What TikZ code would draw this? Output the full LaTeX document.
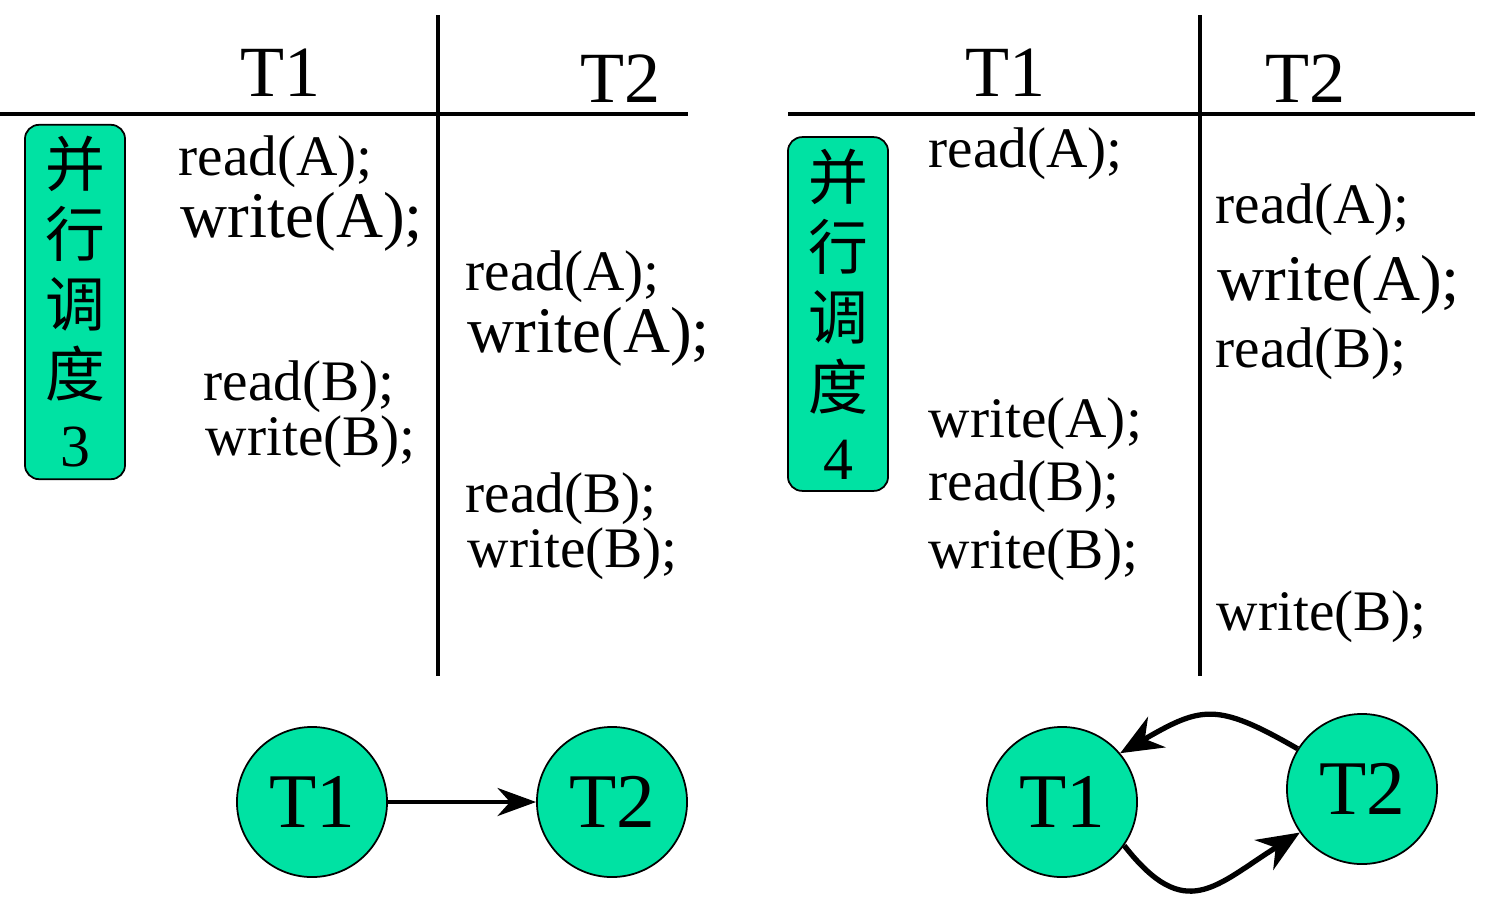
\documentclass[tikz,border=0pt]{standalone}
\usepackage{fontspec}
\setmainfont{Liberation Serif}
\newfontfamily\cjk{Noto Sans CJK SC}
\usetikzlibrary{arrows.meta}

\definecolor{sched}{RGB}{0,226,163}
\newcommand{\opfont}{\fontsize{16.3}{19}\selectfont}
\newcommand{\wrfont}{\fontsize{18.5}{22}\selectfont}
\newcommand{\hdfont}{\fontsize{20.5}{24}\selectfont}

\tikzstyle{op} = [anchor=base west, inner sep=0pt, font=\opfont]
\tikzstyle{opbig} = [anchor=base west, inner sep=0pt, font=\wrfont]
\tikzstyle{head} = [anchor=base west, inner sep=0pt, font=\hdfont]
\tikzstyle{tag} = [draw, fill=sched, rectangle, rounded corners=4pt,
    minimum width=1cm, minimum height=3.48cm, align=center, line width=0.5pt,
    font=\cjk\fontsize{17}{19.9}\selectfont]
\tikzstyle{txn} = [draw, fill=sched, circle, minimum size=1.5cm,
    inner sep=0pt, line width=0.5pt, font=\fontsize{22}{26}\selectfont]
\tikzstyle{rule} = [line width=1.4pt]

\begin{document}
\begin{tikzpicture}[x=0.01cm, y=-0.01cm]
      \useasboundingbox (0,0) rectangle (1503,903);

      % schedule 3
      \draw [rule] (0,114) -- (688,114);
      \draw [rule] (438,15) -- (438,676);
      \node [head] at (240,96) (h3a) {T1};
      \node [head] at (580,102) (h3b) {T2};
      \node [tag] at (75,302) (tag3) {并\\行\\调\\度\\{\rmfamily 3}};

      \node [op] at (178,175) (s3r1) {read(A);};
      \node [opbig] at (180,237) (s3w1) {write(A);};
      \node [op] at (203,400) (s3r2) {read(B);};
      \node [op] at (205,455) (s3w2) {write(B);};
      \node [op] at (465,290) (s3r3) {read(A);};
      \node [opbig] at (467,352) (s3w3) {write(A);};
      \node [op] at (465,512) (s3r4) {read(B);};
      \node [op] at (467,567) (s3w4) {write(B);};

      % schedule 4
      \draw [rule] (788,114) -- (1475,114);
      \draw [rule] (1200,15) -- (1200,676);
      \node [head] at (965,96) (h4a) {T1};
      \node [head] at (1265,102) (h4b) {T2};
      \node [tag] at (838,314) (tag4) {并\\行\\调\\度\\{\rmfamily 4}};

      \node [op] at (928,167) (s4r1) {read(A);};
      \node [op] at (928,437) (s4w1) {write(A);};
      \node [op] at (928,500) (s4r2) {read(B);};
      \node [op] at (928,568) (s4w2) {write(B);};
      \node [op] at (1215,223) (s4r3) {read(A);};
      \node [opbig] at (1217,300) (s4w3) {write(A);};
      \node [op] at (1215,367) (s4r4) {read(B);};
      \node [op] at (1216,630) (s4w4) {write(B);};

      % precedence graphs
      \node [txn] at (312,802) (g3a) {T1};
      \node [txn] at (612,802) (g3b) {T2};
      \draw [-{Stealth[length=11pt,width=8pt]}, line width=0.9pt] (g3a) -- (g3b);

      \node [txn] at (1062,802) (g4a) {T1};
      \node [txn] at (1362,789) (g4b) {T2};
      \draw [-{Stealth[length=12pt,width=10pt]}, line width=1.5pt]
            (g4b.148) to[out=150, in=30, looseness=1.35] (g4a.40);
      \draw [-{Stealth[length=12pt,width=10pt]}, line width=1.5pt]
            (g4a.-35) to[out=-52, in=212, looseness=1.45] (g4b.215);
    \end{tikzpicture}
\end{document}
